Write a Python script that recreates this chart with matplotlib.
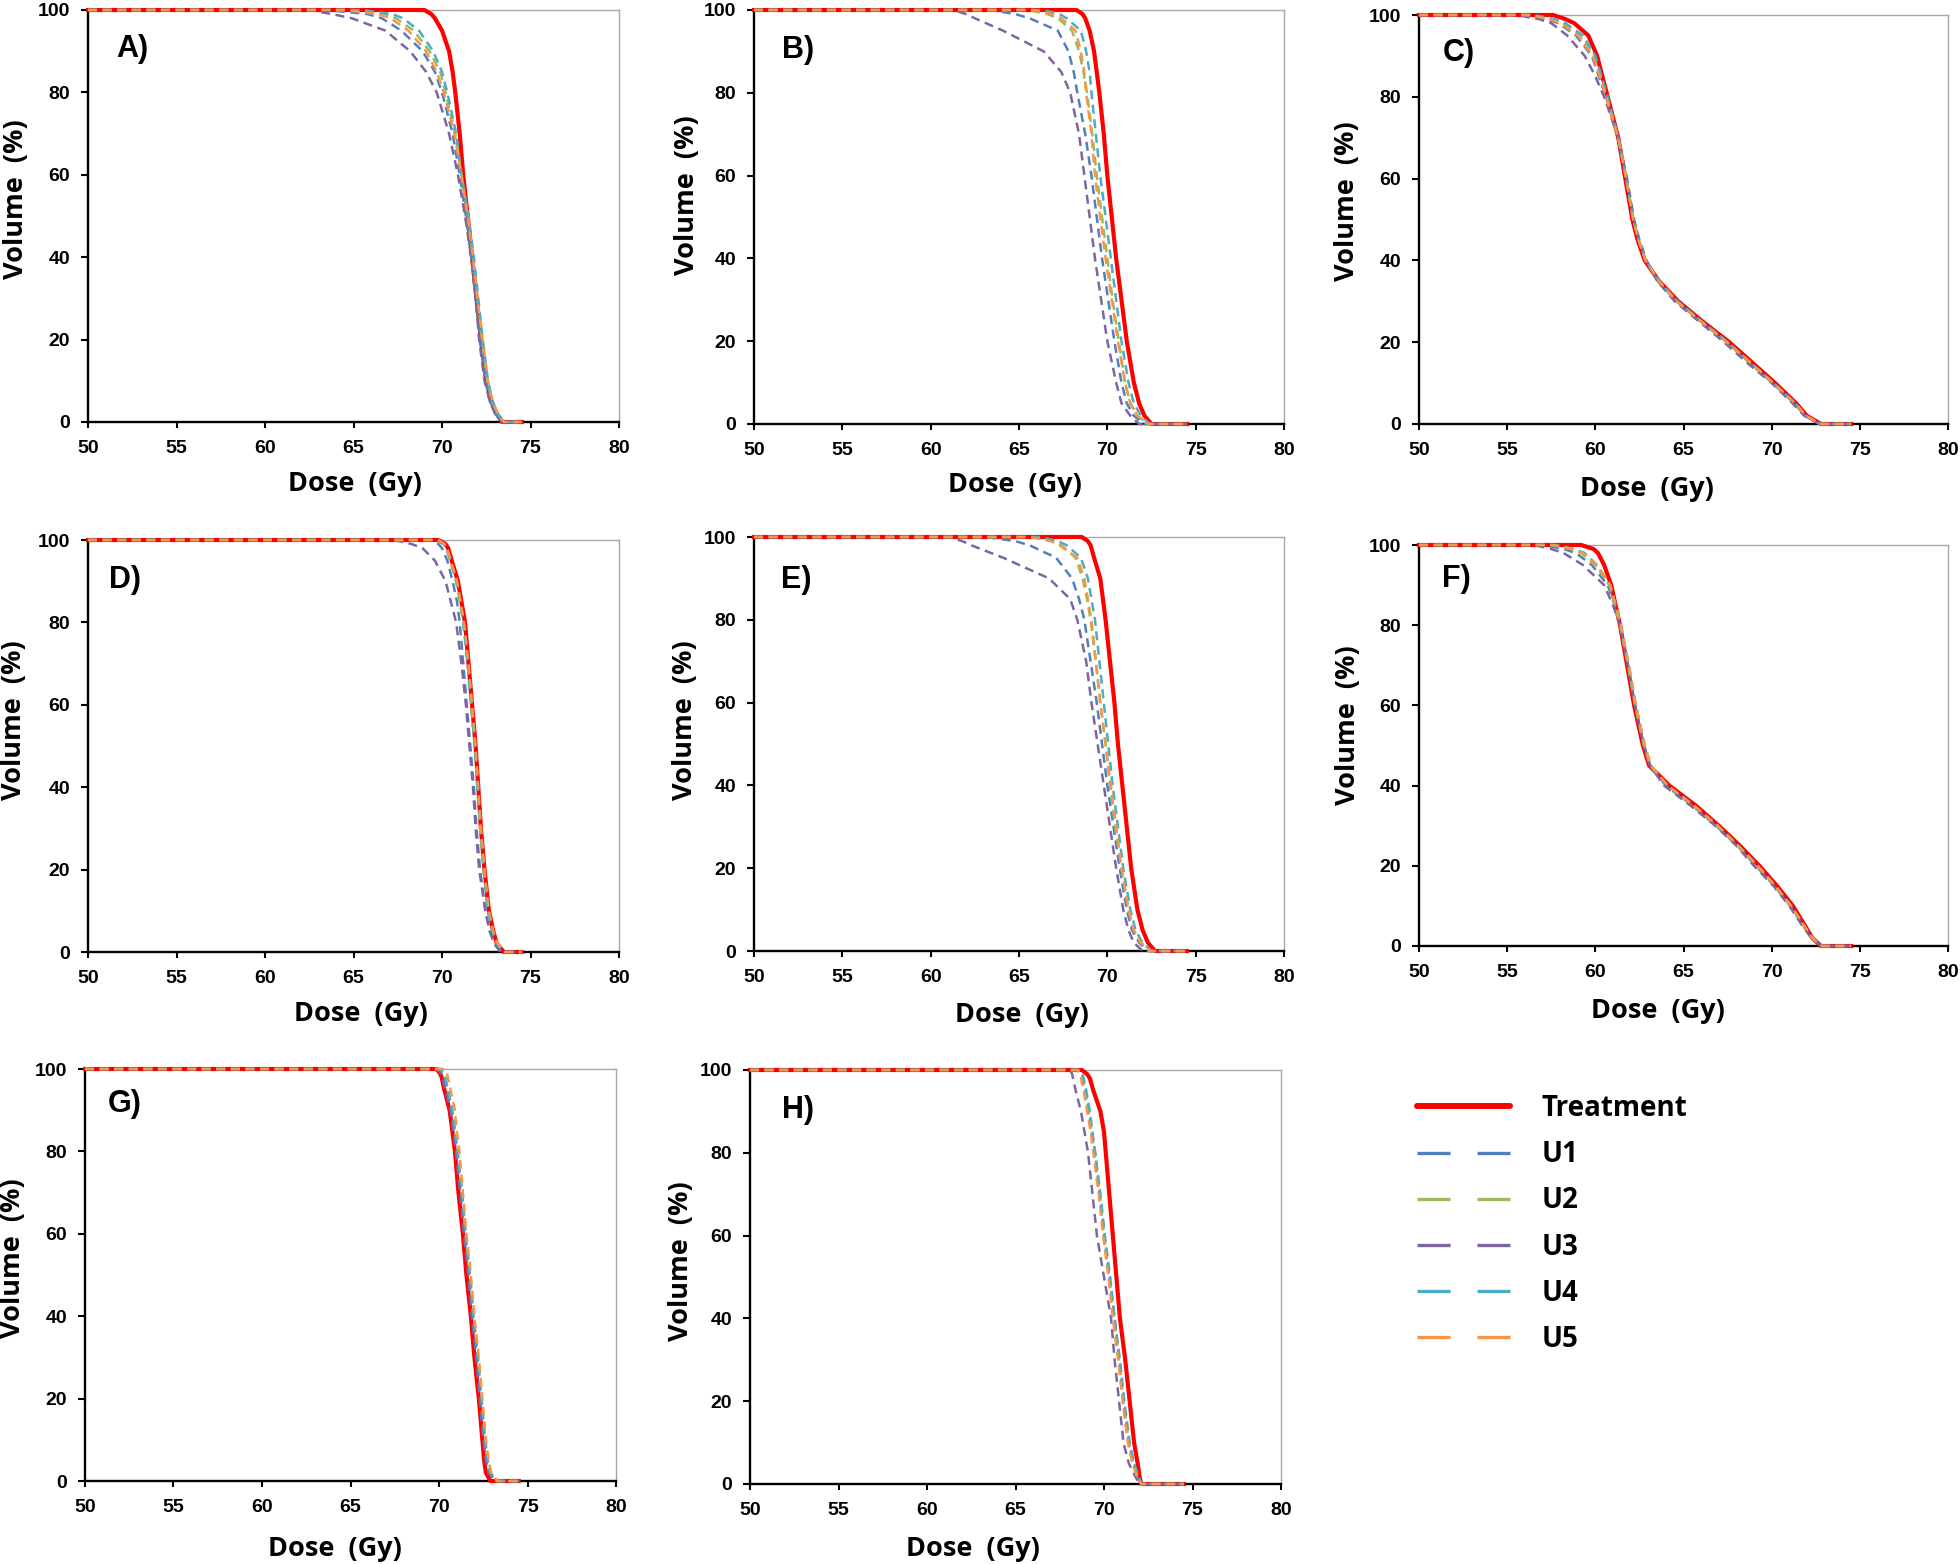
import matplotlib
matplotlib.use('Agg')
import matplotlib.pyplot as plt
from matplotlib.lines import Line2D

plt.rcParams['lines.scale_dashes'] = False
plt.rcParams['font.family'] = ['Liberation Sans', 'DejaVu Sans']
plt.rcParams['font.weight'] = 'bold'

# ---------------- data ----------------
SERIES = ['Treatment', 'U1', 'U2', 'U3', 'U4', 'U5']
COLORS = ['#FF0000', '#4F81BD', '#9BBB59', '#8064A2', '#4BACC6', '#F79646']
PANELS = ['A)', 'B)', 'C)', 'D)', 'E)', 'F)', 'G)', 'H)']
X_TICKS = [50, 55, 60, 65, 70, 75, 80]
Y_TICKS = [0, 20, 40, 60, 80, 100]

# volume levels (%) at which doses (Gy) are read
STEEP_LEVELS = [100, 100, 99, 98, 95, 90, 85, 80, 70, 60, 50, 40, 30, 20, 10, 5, 2, 0, 0]
SHOULDER_LEVELS = [100, 100, 99, 98, 95, 90, 85, 80, 70, 60, 50, 45, 40, 35, 30, 25, 20, 15, 10, 5, 2, 0, 0]

# doses per series (Treatment, U1..U5)
A_DOSE = [
    [50, 69.0, 69.4, 69.6, 70.0, 70.4, 70.6, 70.75, 71.0, 71.2, 71.45, 71.7, 71.95, 72.2, 72.5, 72.8, 73.1, 73.4, 74.5],
    [50, 63.5, 65.8, 66.6, 67.7, 68.9, 69.6, 70.0, 70.6, 71.0, 71.35, 71.65, 71.9, 72.15, 72.45, 72.7, 73.0, 73.4, 74.5],
    [50, 65.0, 66.8, 67.4, 68.4, 69.3, 69.9, 70.2, 70.75, 71.1, 71.45, 71.75, 72.0, 72.25, 72.55, 72.8, 73.1, 73.5, 74.5],
    [50, 62.5, 63.8, 64.9, 66.8, 68.2, 69.1, 69.7, 70.4, 70.9, 71.3, 71.65, 71.9, 72.1, 72.4, 72.7, 73.0, 73.4, 74.5],
    [50, 65.5, 67.2, 67.8, 68.7, 69.5, 70.0, 70.3, 70.8, 71.1, 71.5, 71.8, 72.05, 72.3, 72.6, 72.85, 73.15, 73.5, 74.5],
    [50, 64.5, 66.4, 67.1, 68.1, 69.1, 69.7, 70.1, 70.7, 71.1, 71.45, 71.75, 72.0, 72.3, 72.6, 72.85, 73.15, 73.5, 74.5],
]
B_DOSE = [
    [50, 68.25, 68.6, 68.75, 69.0, 69.25, 69.4, 69.55, 69.8, 70.0, 70.25, 70.5, 70.8, 71.1, 71.5, 71.8, 72.1, 72.5, 74.5],
    [50, 63.4, 64.8, 65.6, 67.2, 67.8, 68.1, 68.3, 68.75, 69.1, 69.4, 69.7, 70.05, 70.4, 70.8, 71.1, 71.5, 72.1, 74.5],
    [50, 65.5, 66.6, 67.2, 68.0, 68.4, 68.65, 68.85, 69.15, 69.4, 69.7, 70.0, 70.3, 70.65, 71.0, 71.3, 71.7, 72.3, 74.5],
    [50, 61.3, 62.0, 62.5, 64.1, 66.4, 67.4, 67.9, 68.4, 68.7, 69.0, 69.3, 69.65, 70.0, 70.5, 70.8, 71.3, 71.8, 74.5],
    [50, 66.4, 67.3, 67.7, 68.5, 68.8, 69.0, 69.1, 69.35, 69.6, 69.9, 70.2, 70.5, 70.8, 71.2, 71.5, 71.9, 72.4, 74.5],
    [50, 65.8, 66.9, 67.4, 68.2, 68.5, 68.7, 68.8, 69.1, 69.3, 69.6, 69.9, 70.25, 70.6, 71.0, 71.3, 71.7, 72.3, 74.5],
]
C_DOSE = [
    [50, 57.6, 58.3, 58.8, 59.6, 60.1, 60.4, 60.7, 61.3, 61.7, 62.1, 62.4, 62.8, 63.6, 64.7, 66.1, 67.6, 68.9, 70.2, 71.4, 72.0, 72.8, 74.5],
    [50, 56.0, 57.2, 57.9, 58.9, 59.8, 60.2, 60.6, 61.3, 61.75, 62.15, 62.45, 62.85, 63.55, 64.6, 66.0, 67.45, 68.75, 70.05, 71.3, 71.9, 72.7, 74.5],
    [50, 56.3, 57.5, 58.1, 59.1, 59.9, 60.3, 60.65, 61.3, 61.75, 62.15, 62.45, 62.85, 63.6, 64.65, 66.05, 67.5, 68.8, 70.1, 71.35, 71.95, 72.75, 74.5],
    [50, 55.5, 56.8, 57.5, 58.4, 59.4, 60.0, 60.5, 61.3, 61.8, 62.2, 62.5, 62.9, 63.5, 64.5, 65.9, 67.3, 68.6, 70.0, 71.2, 71.85, 72.7, 74.5],
    [50, 56.5, 57.7, 58.3, 59.3, 60.0, 60.35, 60.7, 61.3, 61.75, 62.15, 62.45, 62.85, 63.6, 64.65, 66.05, 67.5, 68.8, 70.1, 71.35, 71.95, 72.75, 74.5],
    [50, 56.2, 57.4, 58.0, 59.0, 59.85, 60.25, 60.6, 61.3, 61.75, 62.15, 62.45, 62.85, 63.6, 64.6, 66.0, 67.45, 68.8, 70.1, 71.35, 71.95, 72.75, 74.5],
]
D_DOSE = [
    [50, 69.8, 70.2, 70.35, 70.55, 70.9, 71.1, 71.3, 71.5, 71.7, 71.9, 72.05, 72.2, 72.4, 72.65, 72.9, 73.1, 73.5, 74.5],
    [50, 69.4, 69.8, 70.0, 70.3, 70.6, 70.85, 71.0, 71.2, 71.4, 71.6, 71.8, 71.95, 72.15, 72.45, 72.7, 72.95, 73.3, 74.5],
    [50, 69.7, 70.1, 70.25, 70.45, 70.8, 71.0, 71.2, 71.45, 71.65, 71.85, 72.0, 72.15, 72.35, 72.6, 72.85, 73.1, 73.5, 74.5],
    [50, 67.3, 68.3, 68.9, 69.6, 70.2, 70.5, 70.8, 71.1, 71.35, 71.55, 71.75, 71.9, 72.1, 72.45, 72.7, 73.0, 73.4, 74.5],
    [50, 69.7, 70.1, 70.25, 70.5, 70.8, 71.05, 71.2, 71.45, 71.65, 71.85, 72.0, 72.2, 72.35, 72.6, 72.85, 73.1, 73.5, 74.5],
    [50, 69.8, 70.15, 70.3, 70.5, 70.85, 71.05, 71.25, 71.5, 71.7, 71.9, 72.05, 72.2, 72.4, 72.65, 72.9, 73.15, 73.55, 74.5],
]
E_DOSE = [
    [50, 68.55, 68.9, 69.05, 69.25, 69.6, 69.75, 69.9, 70.15, 70.4, 70.6, 70.85, 71.1, 71.35, 71.7, 72.0, 72.3, 72.7, 74.5],
    [50, 63.1, 64.8, 65.6, 67.1, 68.0, 68.4, 68.7, 69.05, 69.4, 69.7, 70.0, 70.35, 70.7, 71.1, 71.4, 71.8, 72.3, 74.5],
    [50, 65.8, 66.9, 67.4, 68.2, 68.6, 68.85, 69.05, 69.35, 69.6, 69.9, 70.15, 70.45, 70.8, 71.2, 71.5, 71.9, 72.4, 74.5],
    [50, 61.0, 61.8, 62.3, 64.1, 66.7, 67.9, 68.3, 68.8, 69.1, 69.45, 69.8, 70.15, 70.5, 70.9, 71.2, 71.5, 72.0, 74.5],
    [50, 66.2, 67.2, 67.7, 68.5, 68.9, 69.1, 69.3, 69.55, 69.8, 70.05, 70.3, 70.6, 70.9, 71.3, 71.6, 72.0, 72.5, 74.5],
    [50, 65.6, 66.8, 67.3, 68.3, 68.7, 68.9, 69.1, 69.35, 69.6, 69.9, 70.2, 70.5, 70.8, 71.2, 71.5, 71.9, 72.4, 74.5],
]
F_DOSE = [
    [50, 59.2, 59.9, 60.15, 60.5, 60.9, 61.15, 61.4, 61.8, 62.2, 62.7, 63.05, 64.2, 65.7, 67.0, 68.2, 69.3, 70.3, 71.2, 71.9, 72.3, 72.8, 74.5],
    [50, 57.0, 58.2, 58.9, 59.8, 60.7, 61.1, 61.4, 61.85, 62.25, 62.75, 63.1, 64.0, 65.5, 66.85, 68.05, 69.1, 70.15, 71.05, 71.8, 72.25, 72.8, 74.5],
    [50, 57.5, 58.6, 59.2, 60.0, 60.8, 61.1, 61.4, 61.85, 62.25, 62.75, 63.1, 64.1, 65.55, 66.9, 68.1, 69.2, 70.2, 71.1, 71.85, 72.3, 72.8, 74.5],
    [50, 56.5, 57.5, 58.2, 59.3, 60.5, 61.0, 61.4, 61.85, 62.25, 62.75, 63.1, 63.9, 65.4, 66.8, 68.0, 69.0, 70.1, 71.0, 71.75, 72.25, 72.8, 74.5],
    [50, 57.8, 58.8, 59.4, 60.1, 60.8, 61.15, 61.45, 61.9, 62.3, 62.8, 63.15, 64.1, 65.6, 66.9, 68.1, 69.2, 70.2, 71.1, 71.85, 72.3, 72.85, 74.5],
    [50, 57.6, 58.7, 59.3, 60.1, 60.85, 61.15, 61.45, 61.9, 62.3, 62.8, 63.15, 64.1, 65.6, 66.95, 68.1, 69.2, 70.2, 71.1, 71.85, 72.3, 72.85, 74.5],
]
G_DOSE = [
    [50, 69.85, 70.05, 70.15, 70.3, 70.6, 70.75, 70.9, 71.1, 71.35, 71.55, 71.8, 72.0, 72.25, 72.45, 72.55, 72.65, 72.9, 74.5],
    [50, 70.0, 70.2, 70.3, 70.45, 70.7, 70.85, 71.0, 71.25, 71.45, 71.7, 71.9, 72.15, 72.35, 72.55, 72.7, 72.85, 73.2, 74.5],
    [50, 70.1, 70.25, 70.35, 70.5, 70.75, 70.9, 71.05, 71.3, 71.5, 71.75, 71.95, 72.2, 72.4, 72.6, 72.75, 72.9, 73.25, 74.5],
    [50, 69.9, 70.1, 70.2, 70.35, 70.65, 70.8, 70.95, 71.2, 71.4, 71.65, 71.85, 72.1, 72.3, 72.5, 72.65, 72.8, 73.2, 74.5],
    [50, 70.05, 70.25, 70.35, 70.5, 70.75, 70.9, 71.05, 71.3, 71.5, 71.75, 71.95, 72.2, 72.4, 72.6, 72.75, 72.9, 73.25, 74.5],
    [50, 70.3, 70.45, 70.5, 70.65, 70.9, 71.0, 71.15, 71.35, 71.55, 71.8, 72.0, 72.25, 72.45, 72.65, 72.8, 72.95, 73.3, 74.5],
]
H_DOSE = [
    [50, 68.75, 69.05, 69.2, 69.4, 69.8, 70.0, 70.1, 70.3, 70.5, 70.7, 70.9, 71.2, 71.45, 71.7, 71.9, 72.0, 72.1, 74.5],
    [50, 68.6, 68.75, 68.8, 68.95, 69.15, 69.3, 69.5, 69.75, 70.0, 70.3, 70.6, 70.85, 71.1, 71.4, 71.65, 71.9, 72.1, 74.5],
    [50, 68.5, 68.65, 68.75, 68.9, 69.1, 69.3, 69.45, 69.75, 70.0, 70.3, 70.55, 70.85, 71.1, 71.4, 71.65, 71.9, 72.1, 74.5],
    [50, 68.1, 68.2, 68.25, 68.4, 68.7, 68.9, 69.1, 69.35, 69.6, 70.0, 70.4, 70.6, 70.85, 71.1, 71.4, 71.75, 72.0, 74.5],
    [50, 68.7, 68.8, 68.85, 69.0, 69.2, 69.35, 69.5, 69.8, 70.05, 70.35, 70.6, 70.9, 71.15, 71.45, 71.7, 71.95, 72.1, 74.5],
    [50, 68.5, 68.65, 68.7, 68.85, 69.05, 69.25, 69.4, 69.7, 69.95, 70.25, 70.5, 70.8, 71.05, 71.35, 71.6, 71.85, 72.1, 74.5],
]

PANEL_LEVELS = [STEEP_LEVELS, STEEP_LEVELS, SHOULDER_LEVELS, STEEP_LEVELS,
                STEEP_LEVELS, SHOULDER_LEVELS, STEEP_LEVELS, STEEP_LEVELS]
PANEL_DOSES = [A_DOSE, B_DOSE, C_DOSE, D_DOSE, E_DOSE, F_DOSE, G_DOSE, H_DOSE]

# ---------------- layout (pixels in a 1960x1564 canvas) ----------------
W, H = 1960, 1564
BOXES = [  # left, right, top, bottom
    (88, 619, 10, 422), (754, 1284, 10, 424), (1419, 1948, 15, 424),
    (88, 619, 540, 952), (754, 1284, 537, 951), (1419, 1948, 545, 946),
    (85, 616, 1069, 1481), (750, 1281, 1070, 1484),
]
XLABEL_POS = [(0.502, -0.150), (0.493, -0.147), (0.431, -0.160), (0.514, -0.151),
              (0.506, -0.154), (0.452, -0.161), (0.471, -0.165), (0.420, -0.157)]
YLABEL_POS = [(-0.136, 0.542), (-0.127, 0.554), (-0.136, 0.545), (-0.140, 0.563),
              (-0.130, 0.558), (-0.134, 0.550), (-0.136, 0.542), (-0.130, 0.539)]
TAG_POS = [(0.053, 0.905), (0.052, 0.903), (0.044, 0.906), (0.039, 0.902),
           (0.051, 0.897), (0.044, 0.915), (0.043, 0.915), (0.060, 0.903)]

LABEL_FONT = dict(family=['Open Sans', 'DejaVu Sans'], weight='bold', size=19.5)
TAG_FONT = dict(family=['Liberation Sans', 'DejaVu Sans'], weight='bold', size=22)

fig = plt.figure(figsize=(W / 100, H / 100), dpi=100)

for k, tag in enumerate(PANELS):
    l, r, t, b = BOXES[k]
    ax = fig.add_axes([l / W, 1 - b / H, (r - l) / W, (b - t) / H])
    levels = PANEL_LEVELS[k]
    doses = PANEL_DOSES[k]
    ax.plot(doses[0], levels, color=COLORS[0], lw=3.0, clip_on=False, zorder=3,
            solid_joinstyle='round')
    for i in range(1, 6):
        ax.plot(doses[i], levels, color=COLORS[i], lw=1.8, dashes=(6.5, 4),
                clip_on=False, zorder=4)
    ax.set_xlim(50, 80)
    ax.set_ylim(0, 100)
    ax.set_xticks(X_TICKS)
    ax.set_yticks(Y_TICKS)
    for s in ('left', 'bottom'):
        ax.spines[s].set_color('black')
        ax.spines[s].set_linewidth(1.7)
    for s in ('top', 'right'):
        ax.spines[s].set_color('#A6A6A6')
        ax.spines[s].set_linewidth(1.0)
    ax.tick_params(axis='y', direction='out', length=5, width=1.5, color='black',
                   labelsize=14, pad=8, right=False)
    ax.tick_params(axis='x', direction='out', length=4, width=1.5, color='black',
                   labelsize=14, pad=9, top=False)
    for lab in ax.get_xticklabels() + ax.get_yticklabels():
        lab.set_fontweight('bold')
        lab.set_family(['Liberation Sans', 'DejaVu Sans'])
    ax.set_xlabel('Dose  (Gy)', va='center', **LABEL_FONT)
    ax.set_ylabel('Volume  (%)', va='center', **LABEL_FONT)
    ax.xaxis.set_label_coords(*XLABEL_POS[k])
    ax.yaxis.set_label_coords(*YLABEL_POS[k])
    ax.text(TAG_POS[k][0], TAG_POS[k][1], tag, transform=ax.transAxes,
            ha='left', va='center', **TAG_FONT)

# legend
handles = [Line2D([], [], color=COLORS[0], lw=4.3, solid_capstyle='round')]
for i in range(1, 6):
    handles.append(Line2D([], [], color=COLORS[i], lw=2.4, dashes=(23.8, 19.4)))
fig.legend(handles, SERIES, loc='upper left', bbox_to_anchor=(1417 / W, 1 - 1094 / H),
           frameon=False, handlelength=3.35, handletextpad=1.12, labelspacing=0.62,
           borderpad=0, borderaxespad=0,
           prop=dict(family=['Open Sans', 'DejaVu Sans'], weight='bold', size=20))

fig.savefig('out.png', dpi=100, facecolor='white')
